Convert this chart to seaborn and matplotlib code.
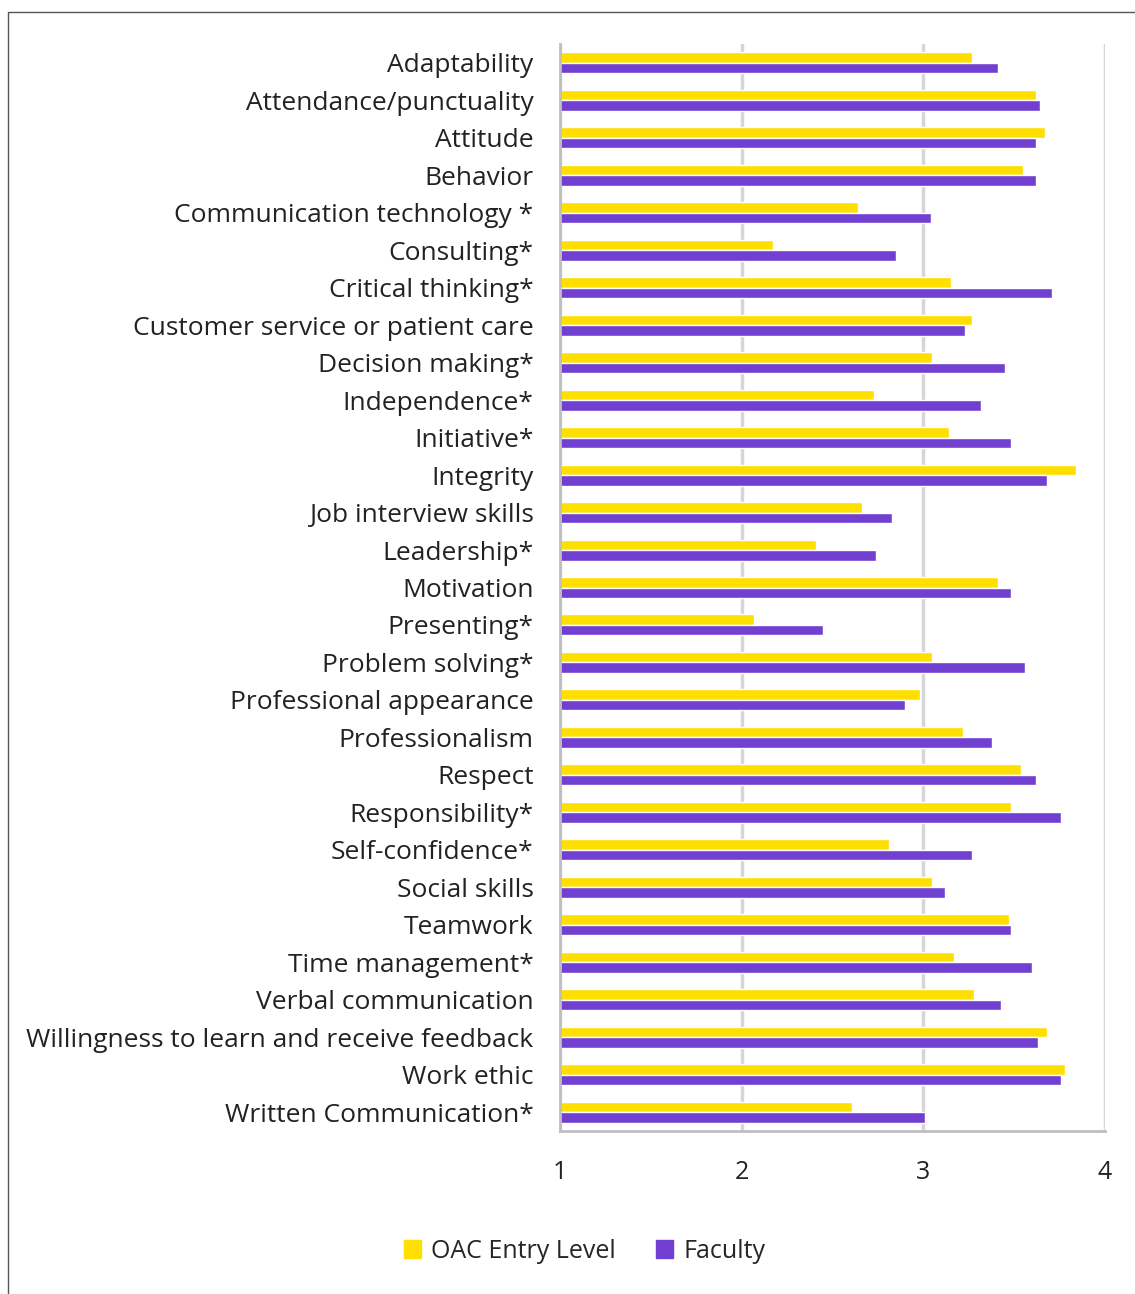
import numpy as np
import pandas as pd
import matplotlib
matplotlib.use("Agg")
import matplotlib.pyplot as plt
import seaborn as sns
from matplotlib.patches import Rectangle

skills = ["Adaptability", "Attendance/punctuality", "Attitude", "Behavior",
          "Communication technology *", "Consulting*", "Critical thinking*",
          "Customer service or patient care", "Decision making*", "Independence*",
          "Initiative*", "Integrity", "Job interview skills", "Leadership*",
          "Motivation", "Presenting*", "Problem solving*", "Professional appearance",
          "Professionalism", "Respect", "Responsibility*", "Self-confidence*",
          "Social skills", "Teamwork", "Time management*", "Verbal communication",
          "Willingness to learn and receive feedback", "Work ethic",
          "Written Communication*"]

oac_entry = [3.27, 3.62, 3.67, 3.55, 2.64, 2.17, 3.15, 3.27, 3.05, 2.73,
             3.14, 3.84, 2.66, 2.41, 3.41, 2.07, 3.05, 2.98, 3.22, 3.54,
             3.48, 2.81, 3.05, 3.47, 3.17, 3.28, 3.68, 3.78, 2.61]
faculty = [3.41, 3.64, 3.62, 3.62, 3.04, 2.85, 3.71, 3.23, 3.45, 3.32,
           3.48, 3.68, 2.83, 2.74, 3.48, 2.45, 3.56, 2.90, 3.38, 3.62,
           3.76, 3.27, 3.12, 3.48, 3.60, 3.43, 3.63, 3.76, 3.01]

groups = ["OAC Entry Level", "Faculty"]
colors = ["#FFDF00", "#7140D0"]

df = pd.concat([
    pd.DataFrame({"Skill": skills, "Score": oac_entry, "Group": groups[0]}),
    pd.DataFrame({"Skill": skills, "Score": faculty, "Group": groups[1]}),
])

sns.set_style("white")
plt.rcParams['font.family'] = ['Open Sans', 'DejaVu Sans']

fig = plt.figure(figsize=(11.35, 12.94), dpi=100)
ax = fig.add_axes([560 / 1135, 1 - 1131 / 1294, 545 / 1135, (1131 - 44) / 1294])

sns.barplot(data=df, y="Skill", x="Score", hue="Group", palette=colors,
            orient="h", width=0.56, ax=ax, legend=False, saturation=1)

ax.set_xlim(1, 4)
ax.set_ylim(len(skills) - 0.5, -0.5)
ax.set_xticks([1, 2, 3, 4])
ax.set_xlabel("")
ax.set_ylabel("")
ax.grid(axis="x", color="#d6d6d6", linewidth=2.5)
ax.set_axisbelow(True)
for s in ["top", "right"]:
    ax.spines[s].set_visible(False)
for s in ["left", "bottom"]:
    ax.spines[s].set_color("#bfbfbf")
    ax.spines[s].set_linewidth(2)

ax.tick_params(axis="x", direction="out", length=7, width=2, color="#bfbfbf",
               labelsize=18, labelcolor="#222222", pad=14)
ax.tick_params(axis="y", which="major", length=0, labelsize=19,
               labelcolor="#222222", pad=19)
ax.set_yticks(np.arange(-0.5, len(skills), 1), minor=True)
ax.tick_params(axis="y", which="minor", direction="out", length=6, width=1.5,
               color="#d0d0d0")

# legend
handles = [Rectangle((0, 0), 1, 1, color=c) for c in colors]
fig.legend(handles, groups, loc="center", bbox_to_anchor=(0.515, 1 - 1251 / 1294),
           ncol=2, frameon=False, fontsize=18, handlelength=0.7, handleheight=0.7,
           handletextpad=0.4, columnspacing=1.6)

# outer frame
fig.add_artist(Rectangle((8 / 1135, -0.01), 1.1, 1 - 12 / 1294 + 0.01,
                         transform=fig.transFigure, fill=False,
                         edgecolor="#555555", linewidth=1))

fig.savefig("out.png", dpi=100)
